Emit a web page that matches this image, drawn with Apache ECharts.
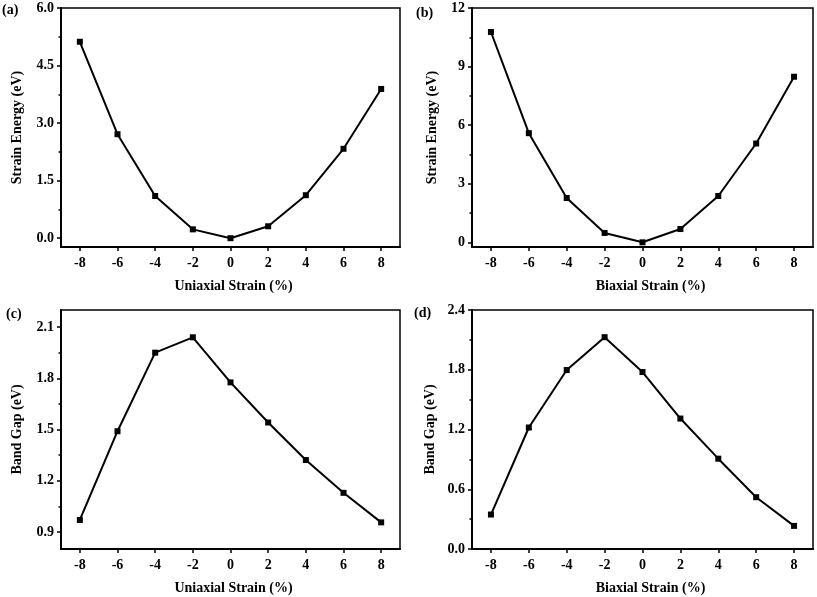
<!DOCTYPE html>
<html>
<head>
<meta charset="utf-8">
<script src="https://cdn.jsdelivr.net/npm/echarts@6/dist/echarts.min.js"></script>
<style>html,body{margin:0;padding:0;background:#fff}#c{width:817px;height:597px}</style>
</head>
<body>
<div id="c"></div>
<script>
// ---- data ----
const strain = [-8, -6, -4, -2, 0, 2, 4, 6, 8];
const uniaxialEnergy = [5.12, 2.71, 1.10, 0.23, 0.0, 0.31, 1.12, 2.33, 3.89];
const biaxialEnergy = [10.77, 5.59, 2.27, 0.48, 0.0, 0.68, 2.37, 5.06, 8.48];
const uniaxialGap = [0.97, 1.49, 1.95, 2.04, 1.776, 1.541, 1.321, 1.129, 0.956];
const biaxialGap = [0.346, 1.22, 1.797, 2.127, 1.777, 1.31, 0.907, 0.52, 0.232];
const xTickValues = [-8, -6, -4, -2, 0, 2, 4, 6, 8];
const yTicksA = [0, 1.5, 3.0, 4.5, 6.0];
const yMinorA = [0.75, 2.25, 3.75, 5.25];
const yTicksB = [0, 3, 6, 9, 12];
const yMinorB = [1.5, 4.5, 7.5, 10.5];
const yTicksC = [0.9, 1.2, 1.5, 1.8, 2.1];
const yMinorC = [1.05, 1.35, 1.65, 1.95];
const yTicksD = [0, 0.6, 1.2, 1.8, 2.4];
const yMinorD = [0.3, 0.9, 1.5, 2.1];
const panelLabels = ['(a)', '(b)', '(c)', '(d)'];
const xTitles = ['Uniaxial Strain (%)', 'Biaxial Strain (%)', 'Uniaxial Strain (%)', 'Biaxial Strain (%)'];
const yTitles = ['Strain Energy (eV)', 'Strain Energy (eV)', 'Band Gap (eV)', 'Band Gap (eV)'];

// ---- layout / styling ----
const FONT = '"Liberation Serif","Times New Roman",serif';
const FS = 14;
const panels = [
  {grid: {left: 61, top: 8, width: 339, height: 239}, ymin: -0.23, ymax: 6.0, ticks: yTicksA, minor: yMinorA, dec: 1, data: uniaxialEnergy, label: [2, 3], xshift: 6, ygap: 37},
  {grid: {left: 472, top: 8, width: 341, height: 239}, ymin: -0.24, ymax: 12, ticks: yTicksB, minor: yMinorB, dec: 0, data: biaxialEnergy, label: [416, 6], xshift: 16, ygap: 33},
  {grid: {left: 61, top: 310, width: 339, height: 239}, ymin: 0.8, ymax: 2.2, ticks: yTicksC, minor: yMinorC, dec: 1, data: uniaxialGap, label: [6, 307], xshift: 6, ygap: 37},
  {grid: {left: 472, top: 310, width: 341, height: 239}, ymin: 0, ymax: 2.4, ticks: yTicksD, minor: yMinorD, dec: 1, data: biaxialGap, label: [414, 306], xshift: 16, ygap: 35}
];

const grids = [], xAxes = [], yAxes = [], series = [], graphics = [];
panels.forEach((p, i) => {
  grids.push(Object.assign({show: true, borderColor: '#000', borderWidth: 1.5, backgroundColor: 'transparent'}, p.grid));
  xAxes.push({
    type: 'value', gridIndex: i, min: -9, max: 9, position: 'bottom',
    name: xTitles[i], nameLocation: 'middle', nameGap: 32,
    nameTextStyle: {fontFamily: FONT, fontWeight: 'bold', fontSize: FS, color: '#000', padding: [0, 0, 0, p.xshift]},
    axisLine: {show: true, onZero: false, lineStyle: {color: '#000', width: 2}},
    axisTick: {show: true, inside: false, length: 4, customValues: xTickValues, lineStyle: {color: '#000', width: 1.5}},
    axisLabel: {show: true, margin: 9, customValues: xTickValues, fontFamily: FONT, fontWeight: 'bold', fontSize: FS, color: '#000',
      formatter: v => String(v)},
    splitLine: {show: false}
  });
  yAxes.push({
    type: 'value', gridIndex: i, min: p.ymin, max: p.ymax, position: 'left',
    name: yTitles[i], nameLocation: 'middle', nameGap: p.ygap, nameRotate: 90,
    nameTextStyle: {fontFamily: FONT, fontWeight: 'bold', fontSize: FS, color: '#000'},
    axisLine: {show: true, onZero: false, lineStyle: {color: '#000', width: 2}},
    axisTick: {show: true, inside: false, length: 4, customValues: p.ticks, lineStyle: {color: '#000', width: 1.5}},
    axisLabel: {show: true, margin: 7, customValues: p.ticks, fontFamily: FONT, fontWeight: 'bold', fontSize: FS, color: '#000',
      formatter: v => Number(v).toFixed(p.dec)},
    splitLine: {show: false}
  });
  // minor ticks axis
  yAxes.push({
    type: 'value', gridIndex: i, min: p.ymin, max: p.ymax, position: 'left', offset: 0,
    axisLine: {show: false, onZero: false},
    axisTick: {show: true, inside: false, length: 2.5, customValues: p.minor, lineStyle: {color: '#000', width: 1.5}},
    axisLabel: {show: false},
    splitLine: {show: false}
  });
  series.push({
    type: 'line', xAxisIndex: i, yAxisIndex: 2 * i,
    data: strain.map((x, k) => [x, p.data[k]]),
    symbol: 'rect', symbolSize: 6, showSymbol: true,
    lineStyle: {color: '#000', width: 2},
    itemStyle: {color: '#000'},
    animation: false, silent: true
  });
  graphics.push({
    type: 'text', left: p.label[0], top: p.label[1],
    style: {text: panelLabels[i], fontFamily: FONT, fontWeight: 'bold', fontSize: FS, fill: '#000'}
  });
});

const chart = echarts.init(document.getElementById('c'), null, {renderer: 'canvas'});
chart.setOption({
  backgroundColor: '#fff',
  animation: false,
  grid: grids,
  xAxis: xAxes,
  yAxis: yAxes,
  series: series,
  graphic: graphics
});
</script>
</body>
</html>
